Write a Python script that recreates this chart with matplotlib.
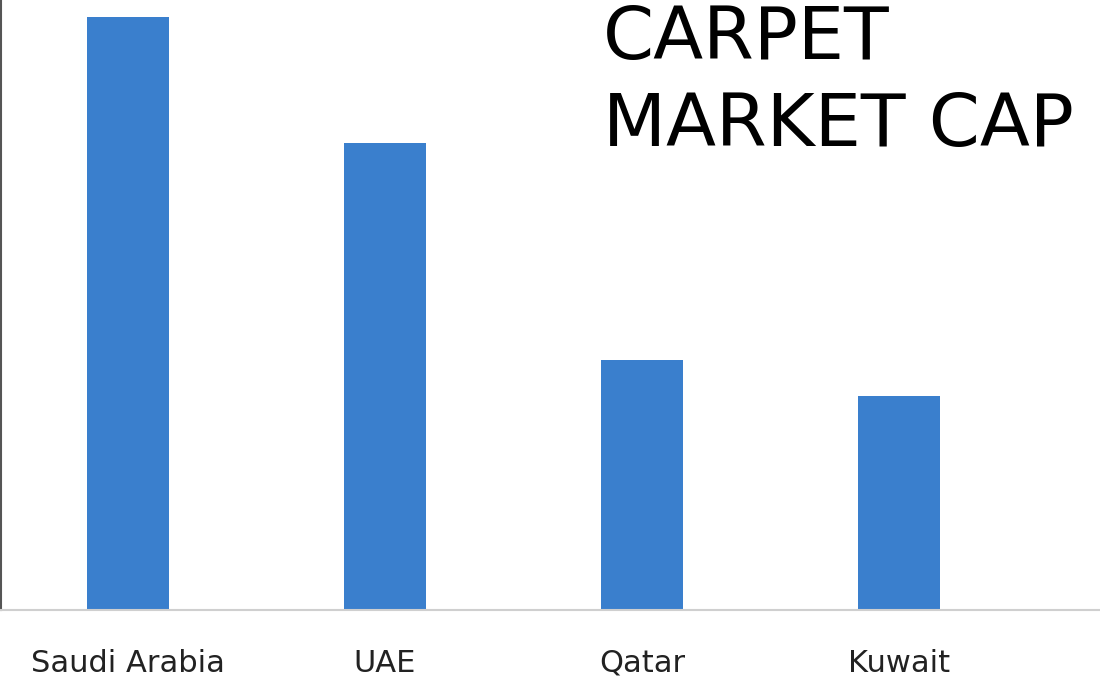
import matplotlib
matplotlib.use("Agg")
import matplotlib.pyplot as plt

countries = ["Saudi Arabia", "UAE", "Qatar", "Kuwait"]
market_cap = [593, 467, 250, 214]
title_lines = ["CARPET", "MARKET CAP"]

BAR_COLOR = "#3a7fcd"

fig = plt.figure(figsize=(11, 6.88), dpi=100, facecolor="white")
ax = fig.add_axes([0.001, 1 - 610/688, 0.999, 610/688])

x = list(range(len(countries)))
ax.bar(x, market_cap, width=0.32, color=BAR_COLOR, zorder=2)
ax.set_ylim(0, 610)
ax.set_xlim(-0.494, 3.782)

ax.set_yticks([])
ax.set_xticks(x)
ax.set_xticklabels(countries, fontsize=22, color="#222222")
ax.tick_params(axis="x", length=0, pad=28)

for s in ["top", "right"]:
    ax.spines[s].set_visible(False)
ax.spines["bottom"].set_color("#cfcfcf")
ax.spines["bottom"].set_linewidth(1.5)
ax.spines["left"].set_color("#555555")
ax.spines["left"].set_linewidth(1.5)

fig.text(603/1100, 1 - 3/688, "\n".join(title_lines), fontsize=52.7,
         ha="left", va="top", linespacing=1.28, color="black")

fig.savefig("out.png", dpi=100, facecolor="white")
